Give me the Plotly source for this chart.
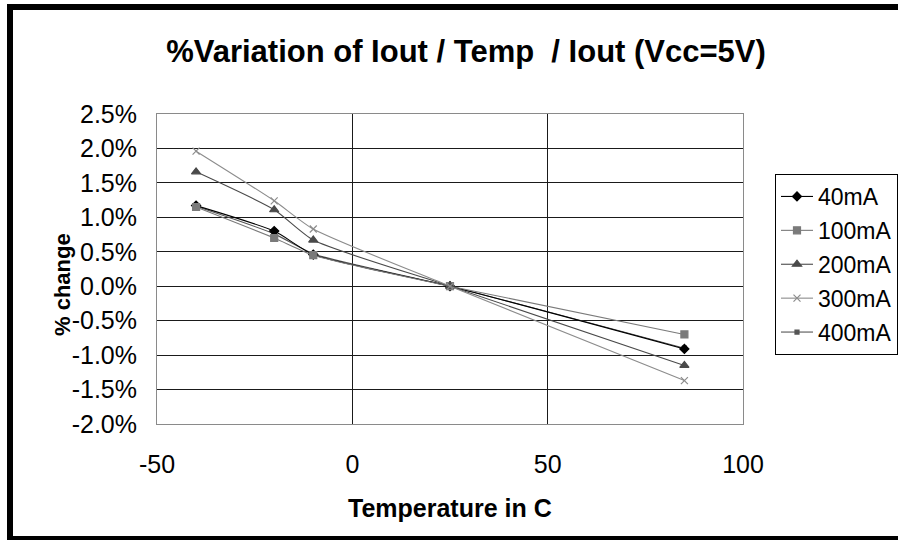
import plotly.graph_objects as go

temps = [-40, -20, -10, 25, 85]
series_names = ["40mA", "100mA", "200mA", "300mA", "400mA"]
v40 = [1.17, 0.80, 0.46, 0.0, -0.91]
v100 = [1.15, 0.70, 0.45, 0.0, -0.70]
v200 = [1.66, 1.11, 0.67, 0.0, -1.15]
v300 = [1.96, 1.24, 0.83, 0.0, -1.37]
v400 = [1.16, 0.76, 0.47, 0.0, -0.90]
y_ticks = [-2.0, -1.5, -1.0, -0.5, 0.0, 0.5, 1.0, 1.5, 2.0, 2.5]
y_labels = ["-2.0%", "-1.5%", "-1.0%", "-0.5%", "0.0%", "0.5%", "1.0%", "1.5%", "2.0%", "2.5%"]
x_ticks = [-50, 0, 50, 100]
x_labels = ["-50", "0", "50", "100"]

W, H = 898, 540
L, R, T, B = 157, 743, 114, 424

def px(x):
    return (x - L) / (R - L)

def py(y):
    return (B - y) / (B - T)

FONT = "Liberation Sans, Arial, sans-serif"

styles = {
    "400mA": dict(color="#555555", symbol="square", size=4),
    "40mA": dict(color="#000000", symbol="diamond", size=7),
    "100mA": dict(color="#7a7a7a", symbol="square", size=7),
    "200mA": dict(color="#4a4a4a", symbol="triangle-up", size=8),
    "300mA": dict(color="#8c8c8c", symbol="x-thin", size=7),
}
data = {"40mA": v40, "100mA": v100, "200mA": v200, "300mA": v300, "400mA": v400}

fig = go.Figure()
order = ["400mA", "40mA", "100mA", "200mA", "300mA"]
rank = {n: i for i, n in enumerate(series_names)}
for name in order:
    s = styles[name]
    fig.add_trace(go.Scatter(
        x=temps, y=[v / 100 for v in data[name]], name=name,
        mode="lines+markers",
        line=dict(color=s["color"], width=1.1, shape="spline", smoothing=0.6),
        marker=dict(symbol=s["symbol"], size=s["size"], color=s["color"],
                    line=dict(color=s["color"], width=1.2)),
        legendrank=rank[name], legendgroup=name,
    ))

fig.update_layout(
    width=W, height=H,
    margin=dict(l=L, r=W - R, t=T, b=H - B, autoexpand=False),
    paper_bgcolor="white", plot_bgcolor="white",
    font=dict(family=FONT, size=25, color="#000000"),
    title=dict(text="%Variation of Iout / Temp  / Iout (Vcc=5V)",
               x=466 / W, xanchor="center", y=1 - 51 / H, yanchor="middle",
               font=dict(family=FONT, size=31, color="#000000", weight="bold")),
    showlegend=True,
    legend=dict(x=px(775), y=py(174), xanchor="left", yanchor="top",
                bordercolor="#000000", borderwidth=1, bgcolor="white",
                font=dict(family=FONT, size=23), tracegroupgap=1,
                itemwidth=32, traceorder="grouped"),
    xaxis=dict(range=[-50, 100], tickvals=x_ticks, ticktext=x_labels,
               showgrid=True, gridcolor="#1a1a1a", gridwidth=1,
               zeroline=False, showline=True, linecolor="#8a8a8a", mirror=True,
               ticks="", ticklabelstandoff=18,
               tickfont=dict(family=FONT, size=25)),
    yaxis=dict(range=[-0.02, 0.025], tickvals=[v / 100 for v in y_ticks],
               ticktext=y_labels,
               showgrid=True, gridcolor="#1a1a1a", gridwidth=1,
               zeroline=False, showline=True, linecolor="#8a8a8a", mirror=True,
               ticks="", ticklabelstandoff=14,
               tickfont=dict(family=FONT, size=25)),
    annotations=[
        dict(text="<b>Temperature in C</b>", xref="paper", yref="paper",
             x=px(450), y=py(508), xanchor="center", yanchor="middle",
             showarrow=False, font=dict(family=FONT, size=25)),
        dict(text="<b>% change</b>", xref="paper", yref="paper",
             x=px(62), y=py(285), xanchor="center", yanchor="middle",
             textangle=-90, showarrow=False, font=dict(family=FONT, size=22)),
    ],
)

# outer frame (left, top, bottom bars)
frame = [
    (px(7), px(13), py(4), py(541)),
    (px(7), px(898), py(4), py(10)),
    (px(7), px(898), py(536), py(541)),
]
for x0, x1, y0, y1 in frame:
    fig.add_shape(type="rect", xref="paper", yref="paper", x0=x0, x1=x1, y0=y0, y1=y1,
                  fillcolor="#000000", line=dict(width=0), layer="above")

fig.write_html(
    "out.html", config={"displayModeBar": False},
    post_script=("document.body.style.margin='0px';"
                 "document.body.style.overflow='hidden';"
                 "document.documentElement.style.overflow='hidden';"),
)
